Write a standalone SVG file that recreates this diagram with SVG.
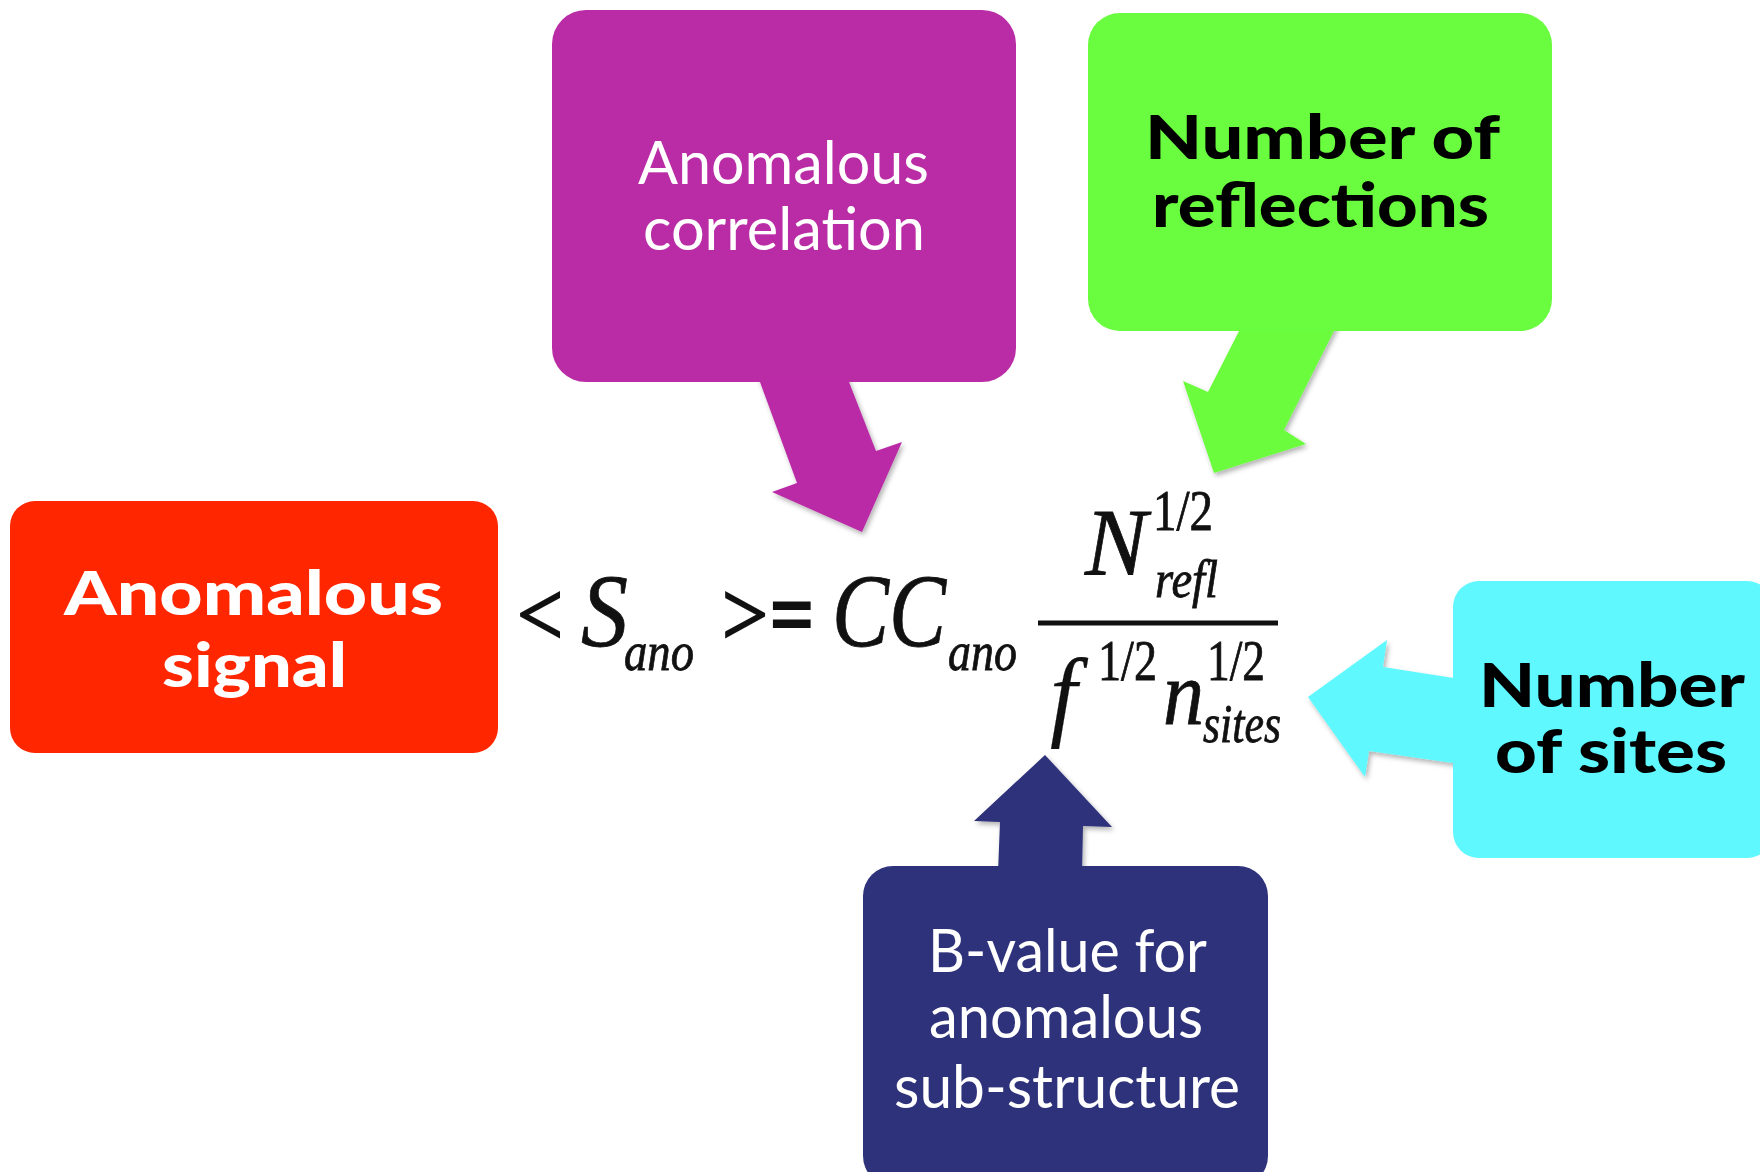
<svg xmlns="http://www.w3.org/2000/svg" width="1760" height="1172" viewBox="0 0 1760 1172">
<defs>
<filter id="sh" x="-20%" y="-20%" width="140%" height="140%">
<feDropShadow dx="2" dy="3" stdDeviation="2.5" flood-color="#000" flood-opacity="0.3"/>
</filter>
<style>
.lbl{font-family:Lato,"Open Sans","Liberation Sans",sans-serif;font-size:60px;}
.reg{font-weight:400;fill:#fff;}
.bld{font-weight:900;}
.w{fill:#fff;}
.k{fill:#000;}
.eq{font-family:"Liberation Serif","DejaVu Serif",serif;fill:#111;stroke:#111;stroke-width:0.8;}
.it{font-style:italic;}
.op{stroke-width:2.2;}
.thin{stroke-width:0.2;}
.arrow{filter:url(#sh);}
</style>
</defs>
<rect width="1760" height="1172" fill="#fff"/>

<g id="connectors">
<polygon class="arrow" fill="#BA2CA6" points="757.4,375 797,483 772,492 862,532 902,442 876,451 846.3,375"/>
<polygon class="arrow" fill="#6AFC3E" points="1242.6,324 1208,392 1183,381 1214,473 1306,444 1284,430 1337.5,324"/>
<polygon class="arrow" fill="#5FF8FF" points="1460,679 1383,667 1387,640 1308,697 1365,777 1369,751 1460,764"/>
<polygon class="arrow" fill="#2E327A" points="998,873 1000,822 974,821 1045,755 1112,827 1083,826 1082,873"/>
</g>

<g id="node-anomalous-signal">
<rect x="10" y="501" width="488" height="252" rx="25" fill="#FF2600"/>
<text class="lbl bld w" x="64" y="615" textLength="379" lengthAdjust="spacingAndGlyphs">Anomalous</text>
<text class="lbl bld w" x="162" y="687" textLength="185" lengthAdjust="spacingAndGlyphs">signal</text>
</g>

<g id="node-anomalous-correlation">
<rect x="552" y="10" width="464" height="372" rx="34" fill="#BA2CA6"/>
<text class="lbl reg" x="638" y="184" textLength="291" lengthAdjust="spacingAndGlyphs">Anomalous</text>
<text class="lbl reg" x="643" y="250" textLength="282" lengthAdjust="spacingAndGlyphs">correlation</text>
</g>

<g id="node-number-of-reflections">
<rect x="1088" y="13" width="464" height="318" rx="32" fill="#6AFC3E"/>
<text class="lbl bld k" x="1145" y="159" textLength="355" lengthAdjust="spacingAndGlyphs">Number of</text>
<text class="lbl bld k" x="1152" y="227" textLength="337" lengthAdjust="spacingAndGlyphs">reflections</text>
</g>

<g id="node-number-of-sites">
<rect x="1453" y="581" width="320" height="277" rx="26" fill="#5FF8FF"/>
<text class="lbl bld k" x="1479" y="707" textLength="266" lengthAdjust="spacingAndGlyphs">Number</text>
<text class="lbl bld k" x="1495" y="773" textLength="232" lengthAdjust="spacingAndGlyphs">of sites</text>
</g>

<g id="node-b-value">
<rect x="863" y="866" width="405" height="320" rx="30" fill="#2E327A"/>
<text class="lbl reg" x="928" y="972" textLength="279" lengthAdjust="spacingAndGlyphs">B-value for</text>
<text class="lbl reg" x="929" y="1038" textLength="274" lengthAdjust="spacingAndGlyphs">anomalous</text>
<text class="lbl reg" x="894" y="1108" textLength="346" lengthAdjust="spacingAndGlyphs">sub-structure</text>
</g>

<g id="equation">
<text class="eq op" x="517" y="645" font-size="92" textLength="46" lengthAdjust="spacingAndGlyphs">&lt;</text>
<text class="eq it" x="581" y="646" font-size="103" textLength="47" lengthAdjust="spacingAndGlyphs">S</text>
<text class="eq it" x="624" y="670" font-size="54" textLength="70" lengthAdjust="spacingAndGlyphs">ano</text>
<text class="eq op" x="722" y="645" font-size="92" textLength="46" lengthAdjust="spacingAndGlyphs">&gt;</text>
<text class="eq op" x="770" y="645" font-size="92" font-weight="bold" textLength="44" lengthAdjust="spacingAndGlyphs">=</text>
<text class="eq it" x="832" y="646" font-size="103" textLength="114" lengthAdjust="spacingAndGlyphs">CC</text>
<text class="eq it" x="948" y="670" font-size="54" textLength="69" lengthAdjust="spacingAndGlyphs">ano</text>
<rect x="1038" y="620.5" width="240" height="5" fill="#111"/>
<text class="eq it" x="1085" y="575" font-size="95" textLength="62" lengthAdjust="spacingAndGlyphs">N</text>
<text class="eq" x="1153" y="530" font-size="56" textLength="60" lengthAdjust="spacingAndGlyphs">1/2</text>
<text class="eq it" x="1155" y="597" font-size="52" textLength="63" lengthAdjust="spacingAndGlyphs">refl</text>
<text class="eq it thin" x="1050" y="728" font-size="99" textLength="27" lengthAdjust="spacingAndGlyphs">f</text>
<text class="eq" x="1098" y="680" font-size="56" textLength="59" lengthAdjust="spacingAndGlyphs">1/2</text>
<text class="eq it" x="1163" y="724" font-size="92" textLength="41" lengthAdjust="spacingAndGlyphs">n</text>
<text class="eq" x="1207" y="680" font-size="56" textLength="58" lengthAdjust="spacingAndGlyphs">1/2</text>
<text class="eq it" x="1203" y="742" font-size="54" textLength="78" lengthAdjust="spacingAndGlyphs">sites</text>
</g>
</svg>
